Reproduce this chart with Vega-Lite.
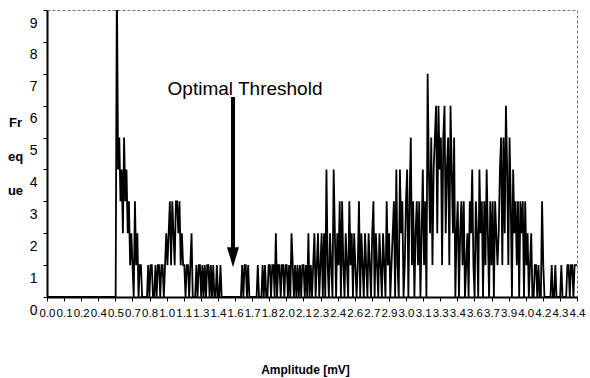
{
  "$schema": "https://vega.github.io/schema/vega-lite/v6.json",
  "width": 530,
  "height": 287,
  "autosize": {"type": "none"},
  "padding": {"left": 47, "top": 10, "right": 13, "bottom": 81},
  "background": "white",
  "config": {
    "font": "Liberation Sans",
    "view": {"stroke": "#777777", "strokeDash": [3, 2], "strokeWidth": 1}
  },
  "data": {"values": [
    {"amp":0.00,"freq":0},{"amp":0.01,"freq":0},{"amp":0.02,"freq":0},{"amp":0.03,"freq":0},{"amp":0.04,"freq":0},{"amp":0.05,"freq":0},{"amp":0.06,"freq":0},{"amp":0.07,"freq":0},{"amp":0.08,"freq":0},{"amp":0.09,"freq":0},
    {"amp":0.10,"freq":0},{"amp":0.11,"freq":0},{"amp":0.12,"freq":0},{"amp":0.13,"freq":0},{"amp":0.14,"freq":0},{"amp":0.15,"freq":0},{"amp":0.16,"freq":0},{"amp":0.17,"freq":0},{"amp":0.18,"freq":0},{"amp":0.19,"freq":0},
    {"amp":0.20,"freq":0},{"amp":0.21,"freq":0},{"amp":0.22,"freq":0},{"amp":0.23,"freq":0},{"amp":0.24,"freq":0},{"amp":0.25,"freq":0},{"amp":0.26,"freq":0},{"amp":0.27,"freq":0},{"amp":0.28,"freq":0},{"amp":0.29,"freq":0},
    {"amp":0.30,"freq":0},{"amp":0.31,"freq":0},{"amp":0.32,"freq":0},{"amp":0.33,"freq":0},{"amp":0.34,"freq":0},{"amp":0.35,"freq":0},{"amp":0.36,"freq":0},{"amp":0.37,"freq":0},{"amp":0.38,"freq":0},{"amp":0.39,"freq":0},
    {"amp":0.40,"freq":0},{"amp":0.41,"freq":0},{"amp":0.42,"freq":0},{"amp":0.43,"freq":0},{"amp":0.44,"freq":0},{"amp":0.45,"freq":0},{"amp":0.46,"freq":0},{"amp":0.47,"freq":0},{"amp":0.48,"freq":0},{"amp":0.49,"freq":0},
    {"amp":0.50,"freq":0},{"amp":0.51,"freq":0},{"amp":0.52,"freq":0},{"amp":0.53,"freq":0},{"amp":0.54,"freq":0},{"amp":0.55,"freq":0},{"amp":0.56,"freq":0},{"amp":0.57,"freq":0},{"amp":0.58,"freq":10},{"amp":0.59,"freq":4},
    {"amp":0.60,"freq":5},{"amp":0.61,"freq":3},{"amp":0.62,"freq":4},{"amp":0.63,"freq":2},{"amp":0.64,"freq":5},{"amp":0.65,"freq":3},{"amp":0.66,"freq":4},{"amp":0.67,"freq":2},{"amp":0.68,"freq":3},{"amp":0.69,"freq":1},
    {"amp":0.70,"freq":2},{"amp":0.71,"freq":1},{"amp":0.72,"freq":0},{"amp":0.73,"freq":3},{"amp":0.74,"freq":1},{"amp":0.75,"freq":2},{"amp":0.76,"freq":0},{"amp":0.77,"freq":1},{"amp":0.78,"freq":1},{"amp":0.79,"freq":0},
    {"amp":0.80,"freq":0},{"amp":0.81,"freq":0},{"amp":0.82,"freq":0},{"amp":0.83,"freq":0},{"amp":0.84,"freq":1},{"amp":0.85,"freq":0},{"amp":0.86,"freq":1},{"amp":0.87,"freq":1},{"amp":0.88,"freq":0},{"amp":0.89,"freq":0},
    {"amp":0.90,"freq":1},{"amp":0.91,"freq":0},{"amp":0.92,"freq":1},{"amp":0.93,"freq":1},{"amp":0.94,"freq":0},{"amp":0.95,"freq":1},{"amp":0.96,"freq":1},{"amp":0.97,"freq":0},{"amp":0.98,"freq":1},{"amp":0.99,"freq":2},
    {"amp":1.00,"freq":1},{"amp":1.01,"freq":2},{"amp":1.02,"freq":3},{"amp":1.03,"freq":1},{"amp":1.04,"freq":3},{"amp":1.05,"freq":2},{"amp":1.06,"freq":1},{"amp":1.07,"freq":3},{"amp":1.08,"freq":3},{"amp":1.09,"freq":2},
    {"amp":1.10,"freq":3},{"amp":1.11,"freq":1},{"amp":1.12,"freq":2},{"amp":1.13,"freq":1},{"amp":1.14,"freq":1},{"amp":1.15,"freq":0},{"amp":1.16,"freq":1},{"amp":1.17,"freq":1},{"amp":1.18,"freq":0},{"amp":1.19,"freq":1},
    {"amp":1.20,"freq":2},{"amp":1.21,"freq":0},{"amp":1.22,"freq":0},{"amp":1.23,"freq":0},{"amp":1.24,"freq":1},{"amp":1.25,"freq":0},{"amp":1.26,"freq":1},{"amp":1.27,"freq":1},{"amp":1.28,"freq":0},{"amp":1.29,"freq":1},
    {"amp":1.30,"freq":0},{"amp":1.31,"freq":1},{"amp":1.32,"freq":0},{"amp":1.33,"freq":1},{"amp":1.34,"freq":1},{"amp":1.35,"freq":0},{"amp":1.36,"freq":1},{"amp":1.37,"freq":0},{"amp":1.38,"freq":1},{"amp":1.39,"freq":0},
    {"amp":1.40,"freq":0},{"amp":1.41,"freq":1},{"amp":1.42,"freq":0},{"amp":1.43,"freq":0},{"amp":1.44,"freq":1},{"amp":1.45,"freq":0},{"amp":1.46,"freq":0},{"amp":1.47,"freq":0},{"amp":1.48,"freq":0},{"amp":1.49,"freq":0},
    {"amp":1.50,"freq":0},{"amp":1.51,"freq":0},{"amp":1.52,"freq":0},{"amp":1.53,"freq":0},{"amp":1.54,"freq":0},{"amp":1.55,"freq":0},{"amp":1.56,"freq":0},{"amp":1.57,"freq":0},{"amp":1.58,"freq":0},{"amp":1.59,"freq":0},
    {"amp":1.60,"freq":0},{"amp":1.61,"freq":0},{"amp":1.62,"freq":1},{"amp":1.63,"freq":0},{"amp":1.64,"freq":1},{"amp":1.65,"freq":1},{"amp":1.66,"freq":0},{"amp":1.67,"freq":1},{"amp":1.68,"freq":0},{"amp":1.69,"freq":0},
    {"amp":1.70,"freq":0},{"amp":1.71,"freq":0},{"amp":1.72,"freq":0},{"amp":1.73,"freq":0},{"amp":1.74,"freq":0},{"amp":1.75,"freq":1},{"amp":1.76,"freq":0},{"amp":1.77,"freq":0},{"amp":1.78,"freq":0},{"amp":1.79,"freq":1},
    {"amp":1.80,"freq":0},{"amp":1.81,"freq":1},{"amp":1.82,"freq":0},{"amp":1.83,"freq":0},{"amp":1.84,"freq":1},{"amp":1.85,"freq":1},{"amp":1.86,"freq":0},{"amp":1.87,"freq":1},{"amp":1.88,"freq":1},{"amp":1.89,"freq":0},
    {"amp":1.90,"freq":2},{"amp":1.91,"freq":0},{"amp":1.92,"freq":1},{"amp":1.93,"freq":1},{"amp":1.94,"freq":0},{"amp":1.95,"freq":1},{"amp":1.96,"freq":1},{"amp":1.97,"freq":0},{"amp":1.98,"freq":1},{"amp":1.99,"freq":1},
    {"amp":2.00,"freq":0},{"amp":2.01,"freq":1},{"amp":2.02,"freq":0},{"amp":2.03,"freq":2},{"amp":2.04,"freq":1},{"amp":2.05,"freq":0},{"amp":2.06,"freq":1},{"amp":2.07,"freq":0},{"amp":2.08,"freq":1},{"amp":2.09,"freq":0},
    {"amp":2.10,"freq":1},{"amp":2.11,"freq":0},{"amp":2.12,"freq":1},{"amp":2.13,"freq":1},{"amp":2.14,"freq":0},{"amp":2.15,"freq":1},{"amp":2.16,"freq":0},{"amp":2.17,"freq":2},{"amp":2.18,"freq":0},{"amp":2.19,"freq":1},
    {"amp":2.20,"freq":0},{"amp":2.21,"freq":1},{"amp":2.22,"freq":2},{"amp":2.23,"freq":0},{"amp":2.24,"freq":1},{"amp":2.25,"freq":2},{"amp":2.26,"freq":0},{"amp":2.27,"freq":1},{"amp":2.28,"freq":2},{"amp":2.29,"freq":0},
    {"amp":2.30,"freq":2},{"amp":2.31,"freq":0},{"amp":2.32,"freq":4},{"amp":2.33,"freq":1},{"amp":2.34,"freq":0},{"amp":2.35,"freq":2},{"amp":2.36,"freq":1},{"amp":2.37,"freq":0},{"amp":2.38,"freq":4},{"amp":2.39,"freq":2},
    {"amp":2.40,"freq":0},{"amp":2.41,"freq":2},{"amp":2.42,"freq":1},{"amp":2.43,"freq":3},{"amp":2.44,"freq":0},{"amp":2.45,"freq":3},{"amp":2.46,"freq":1},{"amp":2.47,"freq":0},{"amp":2.48,"freq":2},{"amp":2.49,"freq":1},
    {"amp":2.50,"freq":0},{"amp":2.51,"freq":3},{"amp":2.52,"freq":1},{"amp":2.53,"freq":2},{"amp":2.54,"freq":0},{"amp":2.55,"freq":2},{"amp":2.56,"freq":1},{"amp":2.57,"freq":0},{"amp":2.58,"freq":1},{"amp":2.59,"freq":3},
    {"amp":2.60,"freq":0},{"amp":2.61,"freq":2},{"amp":2.62,"freq":1},{"amp":2.63,"freq":0},{"amp":2.64,"freq":2},{"amp":2.65,"freq":1},{"amp":2.66,"freq":0},{"amp":2.67,"freq":2},{"amp":2.68,"freq":1},{"amp":2.69,"freq":0},
    {"amp":2.70,"freq":2},{"amp":2.71,"freq":3},{"amp":2.72,"freq":0},{"amp":2.73,"freq":2},{"amp":2.74,"freq":1},{"amp":2.75,"freq":0},{"amp":2.76,"freq":2},{"amp":2.77,"freq":1},{"amp":2.78,"freq":0},{"amp":2.79,"freq":2},
    {"amp":2.80,"freq":1},{"amp":2.81,"freq":0},{"amp":2.82,"freq":3},{"amp":2.83,"freq":1},{"amp":2.84,"freq":2},{"amp":2.85,"freq":0},{"amp":2.86,"freq":1},{"amp":2.87,"freq":2},{"amp":2.88,"freq":3},{"amp":2.89,"freq":0},
    {"amp":2.90,"freq":4},{"amp":2.91,"freq":1},{"amp":2.92,"freq":0},{"amp":2.93,"freq":4},{"amp":2.94,"freq":2},{"amp":2.95,"freq":3},{"amp":2.96,"freq":0},{"amp":2.97,"freq":1},{"amp":2.98,"freq":3},{"amp":2.99,"freq":4},
    {"amp":3.00,"freq":0},{"amp":3.01,"freq":3},{"amp":3.02,"freq":5},{"amp":3.03,"freq":1},{"amp":3.04,"freq":3},{"amp":3.05,"freq":0},{"amp":3.06,"freq":2},{"amp":3.07,"freq":3},{"amp":3.08,"freq":1},{"amp":3.09,"freq":3},
    {"amp":3.10,"freq":0},{"amp":3.11,"freq":2},{"amp":3.12,"freq":4},{"amp":3.13,"freq":1},{"amp":3.14,"freq":3},{"amp":3.15,"freq":0},{"amp":3.16,"freq":7},{"amp":3.17,"freq":4},{"amp":3.18,"freq":2},{"amp":3.19,"freq":5},
    {"amp":3.20,"freq":1},{"amp":3.21,"freq":4},{"amp":3.22,"freq":5},{"amp":3.23,"freq":6},{"amp":3.24,"freq":2},{"amp":3.25,"freq":6},{"amp":3.26,"freq":4},{"amp":3.27,"freq":5},{"amp":3.28,"freq":1},{"amp":3.29,"freq":5},
    {"amp":3.30,"freq":6},{"amp":3.31,"freq":2},{"amp":3.32,"freq":4},{"amp":3.33,"freq":5},{"amp":3.34,"freq":1},{"amp":3.35,"freq":6},{"amp":3.36,"freq":4},{"amp":3.37,"freq":2},{"amp":3.38,"freq":5},{"amp":3.39,"freq":0},
    {"amp":3.40,"freq":2},{"amp":3.41,"freq":3},{"amp":3.42,"freq":0},{"amp":3.43,"freq":2},{"amp":3.44,"freq":3},{"amp":3.45,"freq":1},{"amp":3.46,"freq":3},{"amp":3.47,"freq":0},{"amp":3.48,"freq":1},{"amp":3.49,"freq":2},
    {"amp":3.50,"freq":0},{"amp":3.51,"freq":3},{"amp":3.52,"freq":2},{"amp":3.53,"freq":4},{"amp":3.54,"freq":1},{"amp":3.55,"freq":0},{"amp":3.56,"freq":3},{"amp":3.57,"freq":2},{"amp":3.58,"freq":0},{"amp":3.59,"freq":4},
    {"amp":3.60,"freq":2},{"amp":3.61,"freq":3},{"amp":3.62,"freq":0},{"amp":3.63,"freq":3},{"amp":3.64,"freq":1},{"amp":3.65,"freq":4},{"amp":3.66,"freq":2},{"amp":3.67,"freq":0},{"amp":3.68,"freq":3},{"amp":3.69,"freq":1},
    {"amp":3.70,"freq":3},{"amp":3.71,"freq":0},{"amp":3.72,"freq":3},{"amp":3.73,"freq":2},{"amp":3.74,"freq":1},{"amp":3.75,"freq":2},{"amp":3.76,"freq":4},{"amp":3.77,"freq":5},{"amp":3.78,"freq":1},{"amp":3.79,"freq":5},
    {"amp":3.80,"freq":2},{"amp":3.81,"freq":6},{"amp":3.82,"freq":4},{"amp":3.83,"freq":1},{"amp":3.84,"freq":5},{"amp":3.85,"freq":3},{"amp":3.86,"freq":0},{"amp":3.87,"freq":4},{"amp":3.88,"freq":2},{"amp":3.89,"freq":3},
    {"amp":3.90,"freq":1},{"amp":3.91,"freq":3},{"amp":3.92,"freq":0},{"amp":3.93,"freq":3},{"amp":3.94,"freq":2},{"amp":3.95,"freq":3},{"amp":3.96,"freq":0},{"amp":3.97,"freq":3},{"amp":3.98,"freq":1},{"amp":3.99,"freq":2},
    {"amp":4.00,"freq":0},{"amp":4.01,"freq":1},{"amp":4.02,"freq":2},{"amp":4.03,"freq":0},{"amp":4.04,"freq":0},{"amp":4.05,"freq":1},{"amp":4.06,"freq":1},{"amp":4.07,"freq":0},{"amp":4.08,"freq":1},{"amp":4.09,"freq":0},
    {"amp":4.10,"freq":0},{"amp":4.11,"freq":3},{"amp":4.12,"freq":1},{"amp":4.13,"freq":0},{"amp":4.14,"freq":0},{"amp":4.15,"freq":0},{"amp":4.16,"freq":0},{"amp":4.17,"freq":0},{"amp":4.18,"freq":0},{"amp":4.19,"freq":1},
    {"amp":4.20,"freq":0},{"amp":4.21,"freq":0},{"amp":4.22,"freq":1},{"amp":4.23,"freq":0},{"amp":4.24,"freq":0},{"amp":4.25,"freq":0},{"amp":4.26,"freq":0},{"amp":4.27,"freq":1},{"amp":4.28,"freq":0},{"amp":4.29,"freq":0},
    {"amp":4.30,"freq":0},{"amp":4.31,"freq":0},{"amp":4.32,"freq":1},{"amp":4.33,"freq":1},{"amp":4.34,"freq":0},{"amp":4.35,"freq":1},{"amp":4.36,"freq":1},{"amp":4.37,"freq":0},{"amp":4.38,"freq":1},{"amp":4.39,"freq":1},
    {"amp":4.40,"freq":1}
  ]},
  "encoding": {
    "x": {
      "field": "amp", "type": "quantitative",
      "scale": {"domain": [0, 4.4], "nice": false, "zero": false},
      "axis": {
        "title": "Amplitude [mV]",
        "titleFontSize": 12, "titleFontWeight": "bold", "titleColor": "black",
        "titleX": 258, "titleY": 72, "titleBaseline": "middle", "titleAlign": "center",
        "values": [0,0.1419,0.2839,0.4258,0.5677,0.7097,0.8516,0.9935,1.1355,1.2774,1.4194,1.5613,1.7032,1.8452,1.9871,2.129,2.271,2.4129,2.5548,2.6968,2.8387,2.9806,3.1226,3.2645,3.4065,3.5484,3.6903,3.8323,3.9742,4.1161,4.2581,4.4],
        "labelExpr": "['0.0','0.1','0.2','0.4','0.5','0.7','0.8','1.0','1.1','1.3','1.4','1.6','1.7','1.8','2.0','2.1','2.3','2.4','2.6','2.7','2.9','3.0','3.1','3.3','3.4','3.6','3.7','3.9','4.0','4.2','4.3','4.4'][round(datum.value*31/4.4)]",
        "labelOverlap": false, "labelFlush": false, "labelBound": false,
        "labelFontSize": 11.5, "labelColor": "black", "labelPadding": 6,
        "tickColor": "black", "tickSize": 4, "tickWidth": 1,
        "domainColor": "black", "domainWidth": 2, "grid": false
      }
    },
    "y": {
      "field": "freq", "type": "quantitative",
      "scale": {"domain": [0, 9], "nice": false},
      "axis": {
        "title": ["Fr", "eq", "ue"],
        "titleAngle": 0, "titleFontSize": 13, "titleFontWeight": "bold", "titleColor": "black",
        "titleX": -32, "titleY": 116, "titleAlign": "center", "titleBaseline": "alphabetic", "titleLineHeight": 34,
        "values": [0,1,2,3,4,5,6,7,8,9],
        "labelOffset": 13, "labelFlush": false, "labelOverlap": false,
        "labelFontSize": 14, "labelColor": "black", "labelPadding": 6,
        "tickColor": "black", "tickSize": 4, "tickWidth": 1,
        "domainColor": "black", "domainWidth": 2, "grid": false
      }
    }
  },
  "layer": [
    {
      "mark": {"type": "line", "color": "black", "strokeWidth": 1.8, "clip": true}
    },
    {
      "data": {"values": [{"amp": 1.544, "freq": 6.27, "freq2": 1.5}]},
      "mark": {"type": "rule", "color": "black", "strokeWidth": 4},
      "encoding": {"y2": {"field": "freq2"}}
    },
    {
      "data": {"values": [{"amp": 1.544, "freq": 1.25}]},
      "mark": {"type": "point", "shape": "M-0.6,-1L0.6,-1L0,1Z", "size": 400, "filled": true, "color": "black", "opacity": 1, "strokeWidth": 0}
    },
    {
      "data": {"values": [{"amp": 1.644, "freq": 6.33, "label": "Optimal Threshold"}]},
      "mark": {"type": "text", "fontSize": 19, "color": "black", "align": "center", "baseline": "alphabetic"},
      "encoding": {"text": {"field": "label"}}
    }
  ]
}
